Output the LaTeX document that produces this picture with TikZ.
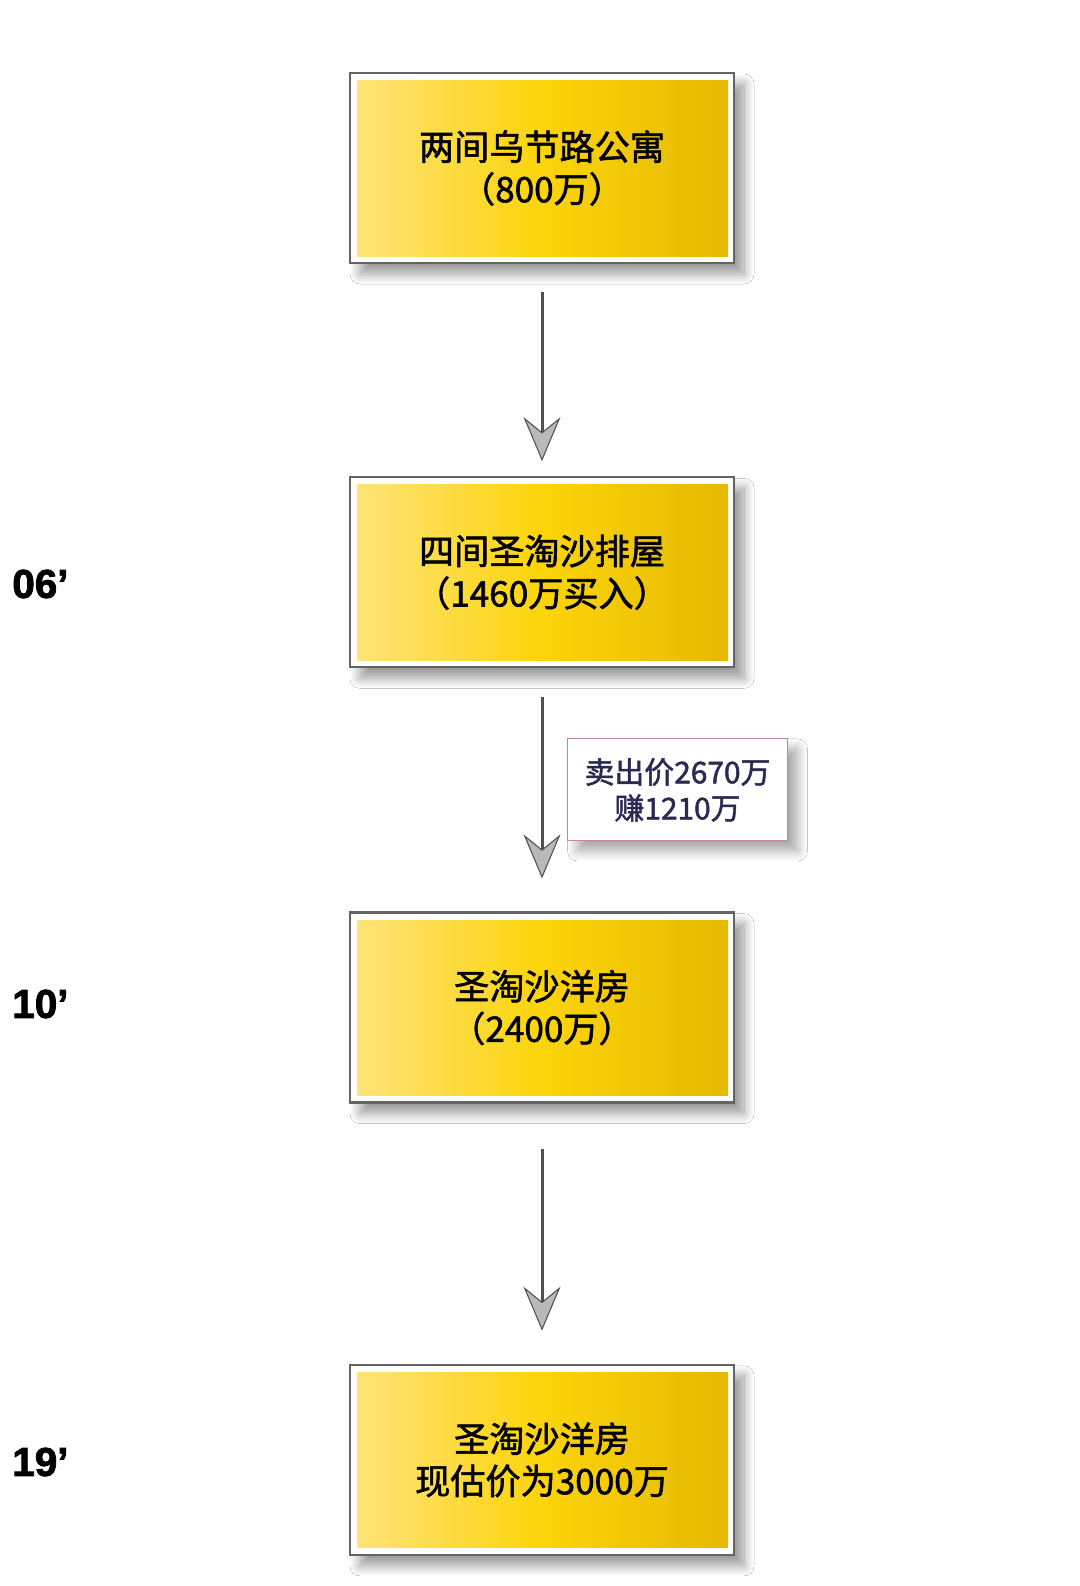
\documentclass[tikz,border=0pt]{standalone}
\usepackage{fontspec}
\setmainfont{Noto Sans CJK SC}[FakeBold=1.6]
\newfontfamily\yearfont{Liberation Sans}[BoldFeatures={FakeBold=2}]
\usepackage{tikz}
\usetikzlibrary{arrows.meta, positioning, shadows.blur}
\definecolor{goldl}{RGB}{253,228,125}
\definecolor{goldm}{RGB}{252,212,10}
\definecolor{goldr}{RGB}{228,184,0}
\definecolor{framegray}{RGB}{100,100,100}
\definecolor{arrowgray}{RGB}{80,80,80}
\definecolor{rose}{RGB}{200,130,155}
\definecolor{navy}{RGB}{40,42,82}

\begin{document}
\begin{tikzpicture}[
   node distance=4.24cm,
   house/.style={draw=framegray, line width=1.3pt, fill=white, align=center,
                 minimum width=7.68cm, minimum height=3.8cm, inner sep=0pt,
                 font=\fontsize{20}{24}\selectfont,
                 blur shadow={shadow xshift=0.2cm, shadow yshift=-0.22cm,
                              shadow blur radius=0.2cm, shadow blur steps=12,
                              shadow blur extra rounding=0pt, shadow opacity=40},
                 path picture={\shade[left color=goldl, right color=goldr, middle color=goldm]
                   ([shift={(0.15cm,-0.15cm)}]path picture bounding box.north west) rectangle
                   ([shift={(-0.12cm,0.14cm)}]path picture bounding box.south east);}},
   sale/.style={draw=rose, line width=0.6pt, fill=white, text=navy, align=center,
                minimum width=4.4cm, minimum height=2.04cm, inner sep=0pt,
                font=\fontsize{17}{20.5}\selectfont,
                blur shadow={shadow xshift=0.2cm, shadow yshift=-0.2cm,
                             shadow blur radius=0.2cm, shadow blur steps=12,
                             shadow blur extra rounding=0pt, shadow opacity=35}},
   year/.style={anchor=west, inner sep=0pt, font=\yearfont\bfseries\fontsize{23}{23}\selectfont},
   arr/.style={draw=arrowgray, line width=1.7pt,
               -{Stealth[length=0.88cm, width=0.74cm, inset=0.3cm, fill=gray!55, line width=0.6pt]}}]

  \path[fill=white, use as bounding box] (0,0) rectangle (21.6,-31.72);

  \node[house] (villa1) at (10.84,-3.36) {两间乌节路公寓\\（800万）};
  \node[house, below=of villa1] (villa2) {四间圣淘沙排屋\\（1460万买入）};
  \node[house, below=4.86cm of villa2] (villa3) {圣淘沙洋房\\（2400万）};
  \node[house, below=5.2cm of villa3] (villa4) {圣淘沙洋房\\现估价为3000万};

  \node[year] (y06) at (0.24,-11.68) {06’};
  \node[year] (y10) at (0.24,-20.08) {10’};
  \node[year] (y19) at (0.24,-29.24) {19’};

  \draw[arr, shorten <=0.56cm, shorten >=0.3cm] (villa1) -- (villa2);
  \draw[arr, shorten <=0.58cm, shorten >=0.66cm] (villa2) --
       node[sale, right=0.5cm] (sale) {卖出价2670万\\赚1210万} (villa3);
  \draw[arr, shorten <=0.9cm, shorten >=0.66cm] (villa3) -- (villa4);
\end{tikzpicture}
\end{document}
